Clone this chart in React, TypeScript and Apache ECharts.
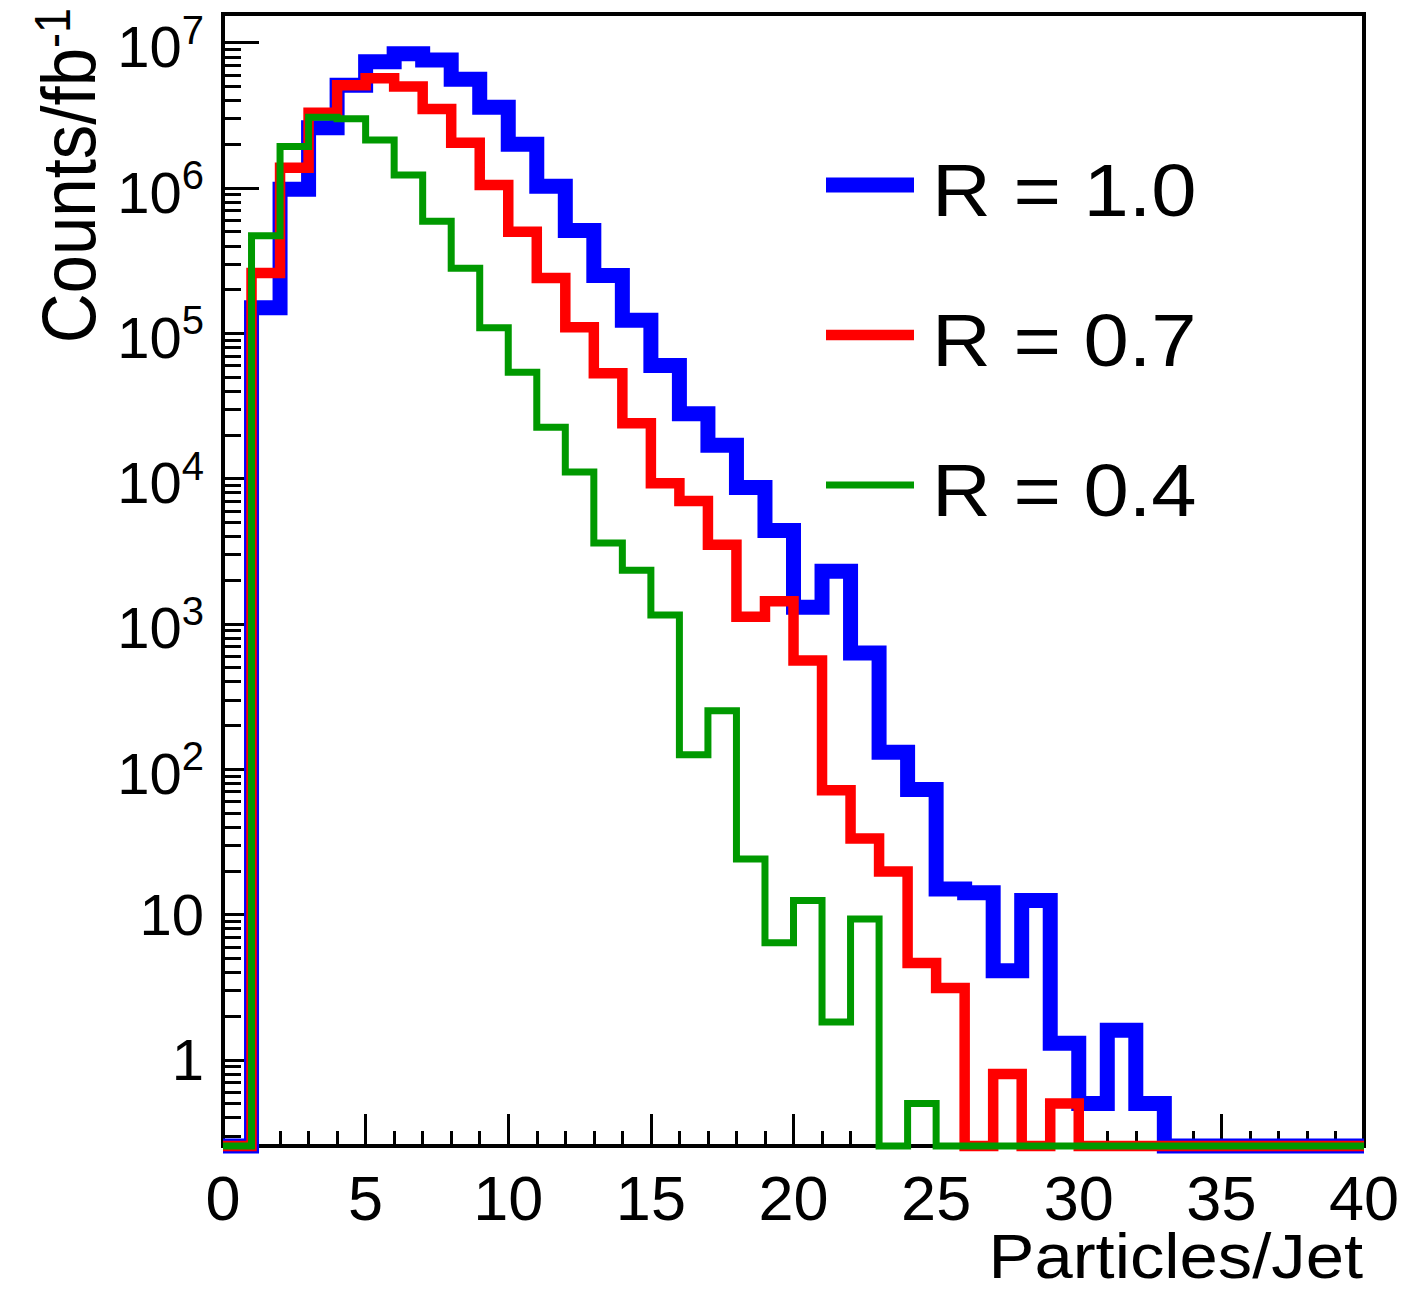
import React, { useEffect, useRef } from "react";
import * as echarts from "echarts";

const FONT = "'Liberation Sans', Arial, Helvetica, sans-serif";

// Histogram binning: 40 bins of width 1 from 0 to 40 (low edges + final upper edge)
const binLowEdges = [
  0, 1, 2, 3, 4, 5, 6, 7, 8, 9, 10, 11, 12, 13, 14, 15, 16, 17, 18, 19,
  20, 21, 22, 23, 24, 25, 26, 27, 28, 29, 30, 31, 32, 33, 34, 35, 36, 37, 38, 39,
];
const xUpperEdge = 40;

// Counts/fb^-1 per bin (0 = empty bin)
const countsR10 = [
  0, 1.5e5, 9.8e5, 2.6e6, 5.1e6, 7.4e6, 8.4e6, 7.6e6, 5.6e6, 3.6e6,
  2.0e6, 1.03e6, 5.1e5, 2.5e5, 1.23e5, 6.0e4, 2.8e4, 1.7e4, 8.7e3, 4.4e3,
  1.3e3, 2.3e3, 630, 131, 72.5, 15.0, 14.1, 4.1, 12.5, 1.3,
  0.5, 1.6, 0.5, 0, 0, 0, 0, 0, 0, 0,
];
const countsR07 = [
  0, 2.6e5, 1.38e6, 3.3e6, 5.1e6, 5.7e6, 5.0e6, 3.5e6, 2.05e6, 1.05e6,
  5.0e5, 2.4e5, 1.1e5, 5.3e4, 2.4e4, 9.3e3, 7.0e3, 3.5e3, 1.12e3, 1.43e3,
  560, 71.6, 33.3, 19.8, 4.63, 3.12, 0, 0.8, 0, 0.5,
  0, 0, 0, 0, 0, 0, 0, 0, 0, 0,
];
const countsR04 = [
  0, 4.7e5, 1.93e6, 3.07e6, 3.0e6, 2.14e6, 1.23e6, 5.9e5, 2.8e5, 1.09e5,
  5.4e4, 2.26e4, 1.11e4, 3.6e3, 2.34e3, 1.15e3, 126, 253, 24.1, 6.4,
  12.5, 1.82, 9.3, 0, 0.5, 0, 0, 0, 0, 0,
  0, 0, 0, 0, 0, 0, 0, 0, 0, 0,
];

const seriesNames = ["R = 1.0", "R = 0.7", "R = 0.4"];
const seriesColors = ["#0000ff", "#ff0000", "#009900"];
const seriesWidths = [15, 10.5, 7];
const seriesCounts = [countsR10, countsR07, countsR04];

// Axis settings
const X_MIN = 0;
const X_MAX = 40;
const X_INTERVAL = 5;
const Y_MIN = -0.593; // log10 of lower frame edge
const Y_MAX = 7.1975; // log10 of upper frame edge
const yMajorExponents = [0, 1, 2, 3, 4, 5, 6, 7];
const yMinorMultipliers = [2, 3, 4, 5, 6, 7, 8, 9];
const yMinorDecades = [-1, 0, 1, 2, 3, 4, 5, 6, 7];

const xTitle = "Particles/Jet";
const yTitle = "Counts/fb{s|-1}";

function histData(counts: number[]) {
  const toY = (c: number) => (c > 0 ? Math.log10(c) : Y_MIN);
  const pts = counts.map((c, i) => [binLowEdges[i], toY(c)]);
  pts.push([xUpperEdge, toY(counts[counts.length - 1])]);
  return pts;
}

const yMinorTicks: number[] = [];
yMinorDecades.forEach((d) => {
  yMinorMultipliers.forEach((m) => {
    const v = Math.log10(m) + d;
    if (v > Y_MIN && v < Y_MAX) yMinorTicks.push(v);
  });
});

export default function App() {
  const ref = useRef<HTMLDivElement>(null);

  useEffect(() => {
    if (!ref.current) return;
    const chart = echarts.init(ref.current, null, { renderer: "svg" });

    const tickLine = { color: "#000", width: 3 };

    const legendGraphics: any[] = [];
    const legendRowY = [185, 335, 485];
    seriesNames.forEach((name, i) => {
      legendGraphics.push({
        type: "line",
        shape: { x1: 826, y1: legendRowY[i], x2: 914, y2: legendRowY[i] },
        style: { stroke: seriesColors[i], lineWidth: seriesWidths[i] },
        z: 10,
      });
      legendGraphics.push({
        type: "text",
        x: 932,
        y: legendRowY[i] + 5,
        scaleX: 1.1,
        style: {
          text: name,
          fontFamily: FONT,
          fontSize: 74,
          fill: "#000",
          align: "left",
          verticalAlign: "middle",
        },
        z: 10,
      });
    });

    const option: any = {
      animation: false,
      backgroundColor: "#fff",
      grid: {
        left: 223,
        top: 14,
        width: 1141,
        height: 1132,
        show: true,
        borderColor: "#000",
        borderWidth: 4,
        backgroundColor: "transparent",
      },
      xAxis: {
        type: "value",
        min: X_MIN,
        max: X_MAX,
        interval: X_INTERVAL,
        axisLine: { show: true, onZero: false, lineStyle: { color: "#000", width: 4 } },
        axisTick: { show: true, inside: true, length: 32, lineStyle: tickLine },
        minorTick: { show: true, splitNumber: 5, length: 15, lineStyle: tickLine },
        axisLabel: { color: "#000", fontFamily: FONT, fontSize: 63, margin: 20 },
        splitLine: { show: false },
        minorSplitLine: { show: false },
      },
      yAxis: [
        {
          type: "value",
          min: Y_MIN,
          max: Y_MAX,
          position: "left",
          axisLine: { show: true, onZero: false, lineStyle: { color: "#000", width: 4 } },
          axisTick: {
            show: true,
            inside: true,
            length: 36,
            customValues: yMajorExponents,
            lineStyle: tickLine,
          },
          axisLabel: {
            customValues: yMajorExponents,
            color: "#000",
            fontFamily: FONT,
            fontSize: 58,
            margin: 19,
            formatter: (v: number) => {
              const e = Math.round(v);
              if (e === 0) return "1";
              if (e === 1) return "10";
              return `{b|10}{s|${e}}`;
            },
            rich: {
              b: { fontSize: 58, fontFamily: FONT, color: "#000", verticalAlign: "bottom" },
              s: {
                fontSize: 40,
                fontFamily: FONT,
                color: "#000",
                verticalAlign: "top",
                padding: [0, 0, 26, 0],
              },
            },
          },
          splitLine: { show: false },
        },
        {
          type: "value",
          min: Y_MIN,
          max: Y_MAX,
          position: "left",
          axisLine: { show: false },
          axisTick: {
            show: true,
            inside: true,
            length: 18,
            customValues: yMinorTicks,
            lineStyle: tickLine,
          },
          axisLabel: { show: false },
          splitLine: { show: false },
        },
      ],
      series: seriesNames.map((name, i) => ({
        name,
        type: "line",
        step: "end",
        xAxisIndex: 0,
        yAxisIndex: 0,
        showSymbol: false,
        symbol: "none",
        clip: false,
        data: histData(seriesCounts[i]),
        lineStyle: { color: seriesColors[i], width: seriesWidths[i], join: "miter", cap: "butt" },
        itemStyle: { color: seriesColors[i] },
        z: 3 + i,
      })),
      graphic: [
        {
          type: "text",
          x: 108,
          y: 8,
          rotation: Math.PI / 2,
          scaleY: 1.1,
          style: {
            text: yTitle,
            fontFamily: FONT,
            fontSize: 69,
            fill: "#000",
            align: "right",
            verticalAlign: "bottom",
            rich: {
              s: { fontSize: 45, fontFamily: FONT, fill: "#000", verticalAlign: "top", padding: [0, 0, 28, 0] },
            },
          },
          z: 10,
        },
        {
          type: "text",
          x: 1363,
          y: 1257,
          scaleX: 1.1,
          style: {
            text: xTitle,
            fontFamily: FONT,
            fontSize: 62.5,
            fill: "#000",
            align: "right",
            verticalAlign: "middle",
          },
          z: 10,
        },
        ...legendGraphics,
      ],
    };

    chart.setOption(option);
    return () => chart.dispose();
  }, []);

  return (
    <div
      ref={ref}
      style={{ position: "absolute", left: 0, top: 0, width: 1404, height: 1294, background: "#fff" }}
    />
  );
}
